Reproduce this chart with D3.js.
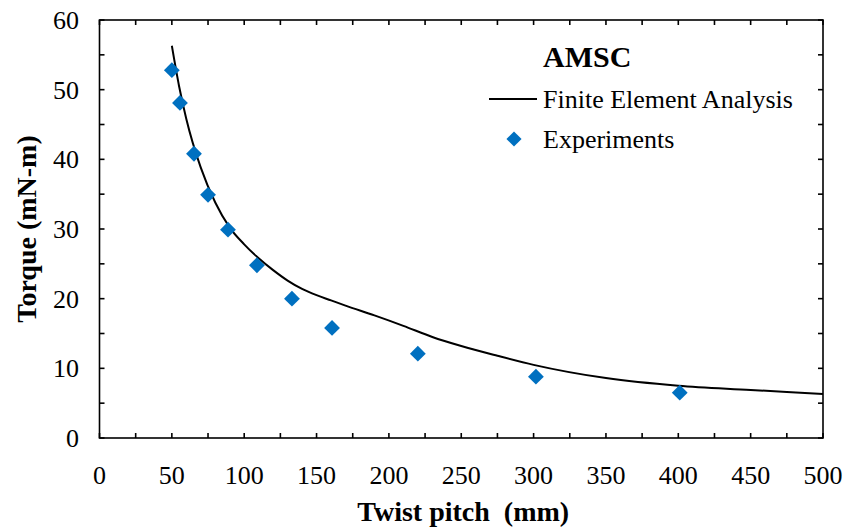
<!DOCTYPE html>
<html>
<head>
<meta charset="utf-8">
<script src="https://cdn.jsdelivr.net/npm/d3@7"></script>
<style>
  body { margin: 0; background: #fff; }
  svg text { font-family: "Liberation Serif", "Times New Roman", serif; fill: #000; }
  .tick-label { font-size: 26px; }
  .axis-title { font-size: 28px; font-weight: bold; }
  .legend-text { font-size: 26px; }
</style>
</head>
<body>
<svg id="chart" width="851" height="529"></svg>
<script>
  // FEA curve (twist pitch mm, torque mN-m)
  var feaPitch = [50, 55, 60, 70, 80, 90, 100, 110, 120, 130, 140, 150, 160, 170, 190, 210, 230, 250, 275, 300, 350, 400, 450, 500];
  var feaTorque = [56.3, 50.5, 45.8, 38.8, 33.8, 30.2, 27.8, 25.8, 24.1, 22.6, 21.4, 20.5, 19.75, 19.0, 17.6, 16.1, 14.5, 13.2, 11.8, 10.5, 8.6, 7.5, 6.9, 6.3];

  // measured points
  var expPitch = [50, 55.6, 65.3, 75, 88.8, 108.8, 133, 160.7, 220, 301.6, 401];
  var expTorque = [52.8, 48.1, 40.8, 34.9, 29.9, 24.8, 20.0, 15.8, 12.1, 8.8, 6.5];

  var xTicks = [0, 50, 100, 150, 200, 250, 300, 350, 400, 450, 500];
  var yTicks = [0, 10, 20, 30, 40, 50, 60];

  var svg = d3.select('#chart');
  var plotLeft = 99.5, plotRight = 823, plotTop = 20, plotBottom = 438;

  var x = d3.scaleLinear().domain([0, 500]).range([plotLeft, plotRight]);
  var y = d3.scaleLinear().domain([0, 60]).range([plotBottom, plotTop]);

  var tickLen = 5;

  // frame
  svg.append('rect')
    .attr('x', plotLeft).attr('y', plotTop)
    .attr('width', plotRight - plotLeft).attr('height', plotBottom - plotTop)
    .attr('fill', 'none').attr('stroke', '#000').attr('stroke-width', 1.6);

  // inward ticks on all four sides
  var xMinor = d3.range(0, 501, 25);
  var yMinor = d3.range(0, 61, 5);
  var ticks = svg.append('g').attr('stroke', '#000').attr('stroke-width', 1.6);

  xMinor.forEach(function(v) {
    ticks.append('line').attr('x1', x(v)).attr('x2', x(v)).attr('y1', plotBottom).attr('y2', plotBottom - tickLen);
    ticks.append('line').attr('x1', x(v)).attr('x2', x(v)).attr('y1', plotTop).attr('y2', plotTop + tickLen);
  });
  yMinor.forEach(function(v) {
    ticks.append('line').attr('y1', y(v)).attr('y2', y(v)).attr('x1', plotLeft).attr('x2', plotLeft + tickLen);
    ticks.append('line').attr('y1', y(v)).attr('y2', y(v)).attr('x1', plotRight).attr('x2', plotRight - tickLen);
  });

  svg.selectAll('.xlab').data(xTicks).enter().append('text')
    .attr('class', 'tick-label')
    .attr('x', function(d) { return x(d); })
    .attr('y', 484)
    .attr('text-anchor', 'middle')
    .text(function(d) { return d; });

  svg.selectAll('.ylab').data(yTicks).enter().append('text')
    .attr('class', 'tick-label')
    .attr('x', 79)
    .attr('y', function(d) { return y(d) + 9; })
    .attr('text-anchor', 'end')
    .text(function(d) { return d; });

  svg.append('text')
    .attr('class', 'axis-title')
    .attr('x', (plotLeft + plotRight) / 2 + 2)
    .attr('y', 521)
    .attr('text-anchor', 'middle')
    .attr('xml:space', 'preserve')
    .style('white-space', 'pre')
    .text('Twist pitch  (mm)');

  svg.append('text')
    .attr('class', 'axis-title')
    .attr('transform', 'translate(36,' + ((plotTop + plotBottom) / 2) + ') rotate(-90)')
    .attr('text-anchor', 'middle')
    .text('Torque (mN-m)');

  // FEA line
  var line = d3.line()
    .x(function(d, i) { return x(feaPitch[i]); })
    .y(function(d) { return y(d); })
    .curve(d3.curveMonotoneX);

  svg.append('path')
    .datum(feaTorque)
    .attr('d', line)
    .attr('fill', 'none')
    .attr('stroke', '#000')
    .attr('stroke-width', 2);

  // diamonds
  var diamond = d3.symbol().type(d3.symbolSquare).size(125);
  var blue = '#0070C0';

  svg.selectAll('.pt').data(expTorque).enter().append('path')
    .attr('d', diamond)
    .attr('fill', blue)
    .attr('transform', function(d, i) {
      return 'translate(' + x(expPitch[i]) + ',' + y(d) + ') rotate(45)';
    });

  // legend
  svg.append('text')
    .attr('x', 543).attr('y', 67)
    .style('font-size', '30px').style('font-weight', 'bold')
    .text('AMSC');

  svg.append('line')
    .attr('x1', 489).attr('x2', 537).attr('y1', 99).attr('y2', 99)
    .attr('stroke', '#000').attr('stroke-width', 2);
  svg.append('text')
    .attr('class', 'legend-text')
    .attr('x', 543).attr('y', 108)
    .text('Finite Element Analysis');

  svg.append('path')
    .attr('d', d3.symbol().type(d3.symbolSquare).size(115))
    .attr('fill', blue)
    .attr('transform', 'translate(514,139) rotate(45)');
  svg.append('text')
    .attr('class', 'legend-text')
    .attr('x', 543).attr('y', 148)
    .text('Experiments');
</script>
</body>
</html>
